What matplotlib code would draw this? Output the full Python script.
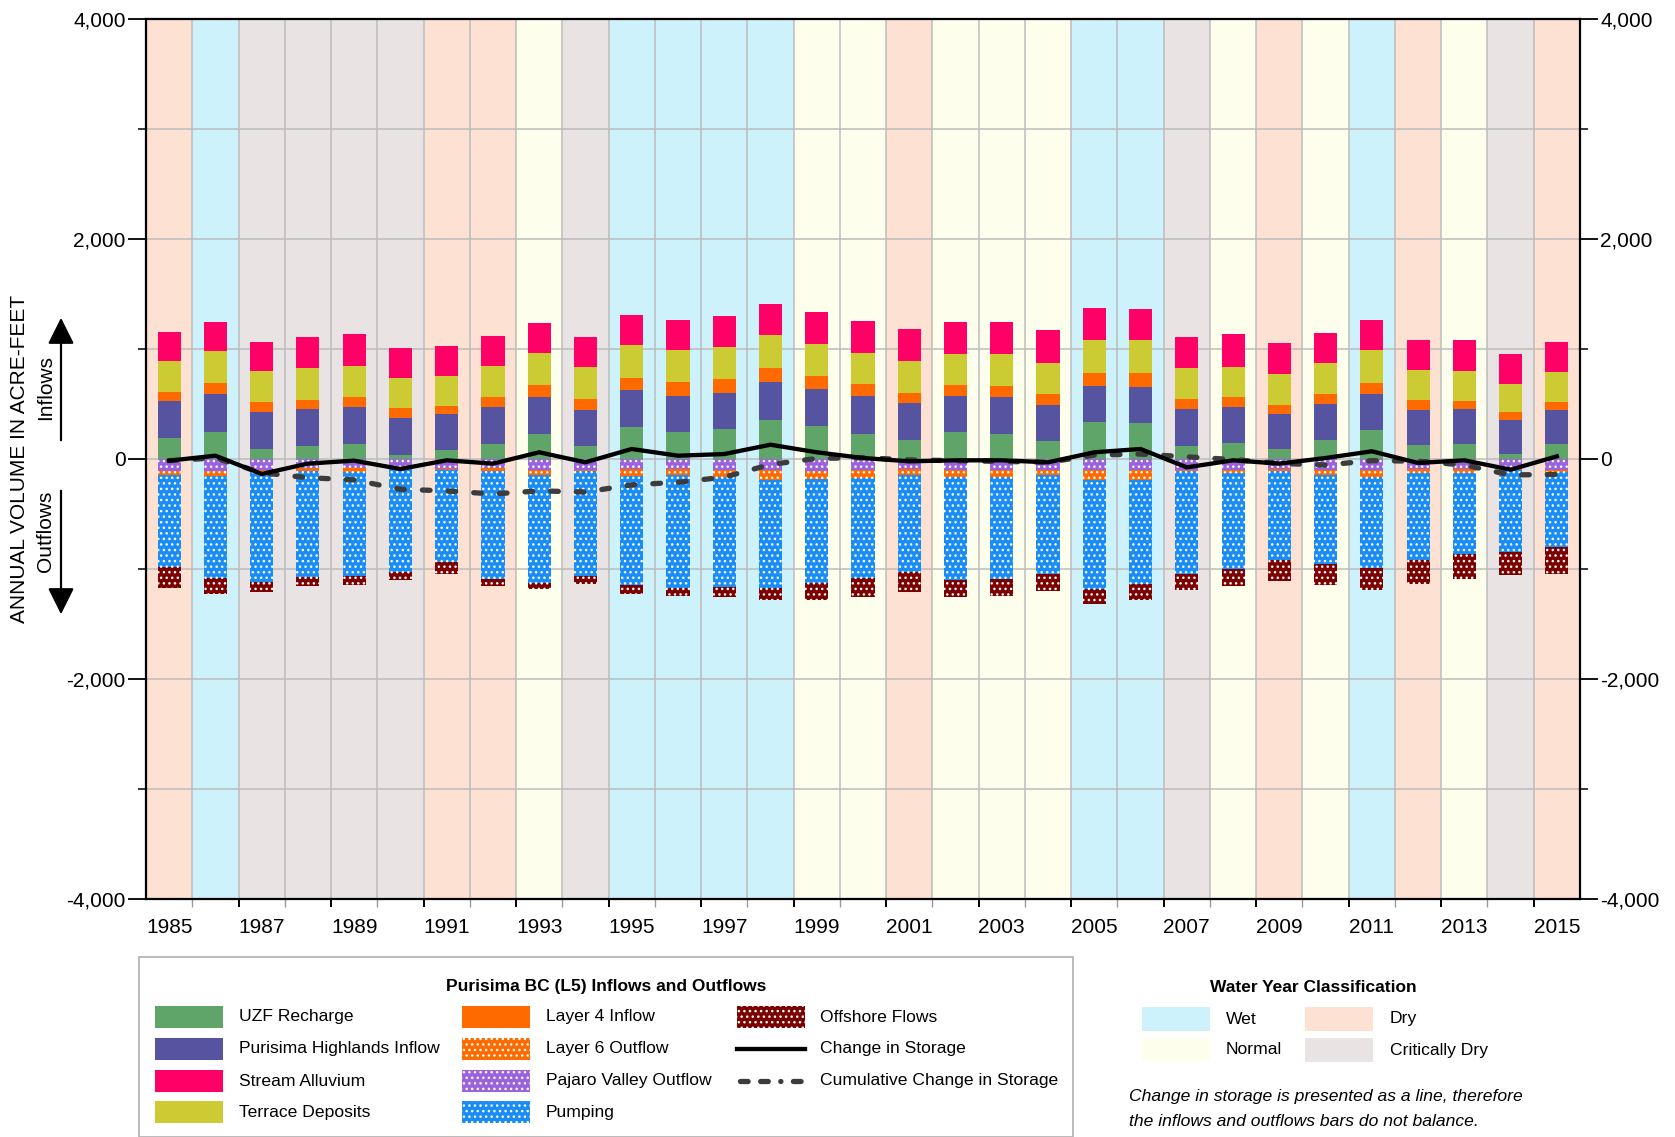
import numpy as np
import matplotlib
matplotlib.use("Agg")
import matplotlib.pyplot as plt
from matplotlib import font_manager
from matplotlib.patches import Rectangle, FancyArrowPatch
from matplotlib.lines import Line2D
from matplotlib.ticker import FixedLocator, FuncFormatter

# ---------------- data (acre-feet per water year) ----------------
years = list(range(1985, 2016))

uzf_recharge = [191, 248, 91, 121, 139, 39, 82, 139, 230, 121, 294, 245, 270, 358, 297, 230,
                173, 242, 230, 164, 333, 327, 121, 145, 91, 176, 267, 130, 133, 42, 133]
highlands_inflow = [333, 343, 333, 334, 331, 334, 327, 331, 331, 327, 330, 331, 330, 339, 339, 340,
                    333, 334, 331, 327, 328, 331, 331, 325, 321, 327, 327, 318, 319, 316, 315]
layer4_inflow = [85, 100, 91, 84, 91, 88, 73, 91, 109, 100, 115, 124, 127, 133, 119, 109,
                 94, 100, 103, 100, 118, 124, 94, 91, 82, 88, 100, 88, 75, 69, 67]
terrace_deposits = [282, 288, 282, 285, 284, 275, 270, 281, 294, 288, 297, 291, 294, 300, 293, 285,
                    291, 282, 291, 285, 300, 297, 279, 278, 276, 282, 294, 270, 273, 258, 273]
stream_alluvium = [264, 269, 270, 285, 288, 273, 275, 273, 269, 270, 273, 276, 282, 279, 291, 294,
                   291, 290, 293, 294, 294, 285, 288, 294, 285, 272, 276, 279, 279, 270, 273]

pajaro_outflow = [106, 106, 100, 82, 82, 67, 90, 82, 97, 100, 91, 91, 97, 97, 106, 97,
                  91, 97, 97, 97, 103, 97, 100, 97, 91, 97, 97, 91, 91, 82, 97]
layer6_outflow = [42, 52, 15, 30, 39, 21, 10, 24, 45, 12, 67, 58, 67, 97, 73, 76,
                  52, 67, 67, 45, 85, 91, 12, 30, 21, 45, 70, 36, 36, 15, 24]
pumping = [833, 924, 1006, 961, 939, 936, 833, 985, 985, 955, 991, 1024, 1003, 982, 952, 909,
           882, 933, 924, 903, 994, 948, 933, 873, 803, 812, 827, 788, 733, 752, 682]
offshore_flows = [191, 142, 85, 79, 85, 79, 109, 67, 55, 73, 76, 70, 88, 109, 155, 173,
                  188, 158, 161, 158, 133, 148, 148, 152, 191, 191, 200, 218, 230, 209, 239]

change_in_storage = [-15, 30, -136, -42, -15, -91, -12, -42, 61, -30, 91, 30, 45, 130, 61, 9,
                     -21, -12, -12, -30, 61, 91, -76, -12, -42, 9, 70, -36, -12, -97, 24]
cumulative_change = [-15, 10, -125, -170, -190, -275, -290, -318, -290, -300, -235, -212, -165, -50, 5, 12,
                     -8, -15, -22, -30, 35, 45, 20, -5, -40, -55, -15, -20, -55, -145, -140]

year_class = ["Dry", "Wet", "Critically Dry", "Critically Dry", "Critically Dry", "Critically Dry",
              "Dry", "Dry", "Normal", "Critically Dry", "Wet", "Wet", "Wet", "Wet", "Normal", "Normal",
              "Dry", "Normal", "Normal", "Normal", "Wet", "Wet", "Critically Dry", "Normal", "Dry",
              "Normal", "Wet", "Dry", "Normal", "Critically Dry", "Dry"]

class_colors = {"Wet": "#cdf2fb", "Normal": "#fefeec", "Dry": "#fde1d2", "Critically Dry": "#e9e3e3"}

inflow_series = [
    ("UZF Recharge", uzf_recharge, "#5fa468", None),
    ("Purisima Highlands Inflow", highlands_inflow, "#5653a1", None),
    ("Layer 4 Inflow", layer4_inflow, "#ff6a00", None),
    ("Terrace Deposits", terrace_deposits, "#cccb34", None),
    ("Stream Alluvium", stream_alluvium, "#ff0066", None),
]
outflow_series = [
    ("Pajaro Valley Outflow", pajaro_outflow, "#9a62dc", "..."),
    ("Layer 6 Outflow", layer6_outflow, "#ff6a00", "..."),
    ("Pumping", pumping, "#1a8cf5", "..."),
    ("Offshore Flows", offshore_flows, "#7d0000", "..."),
]

# ---------------- fonts ----------------
available = {f.name for f in font_manager.fontManager.ttflist}
BASE = "Liberation Sans" if "Liberation Sans" in available else "DejaVu Sans"
if "Liberation Sans Narrow" in available:
    NARROW, LEG_FS = "Liberation Sans Narrow", 15.0
else:
    NARROW, LEG_FS = BASE, 12.6
plt.rcParams["font.family"] = [BASE, "DejaVu Sans"]
plt.rcParams["lines.scale_dashes"] = False
plt.rcParams["hatch.linewidth"] = 1.0

W, H = 1675, 1137
fig = plt.figure(figsize=(W / 100, H / 100), dpi=100)


def fx(px):
    return px / W


def fy(py):
    return 1 - py / H


ax = fig.add_axes([fx(146), fy(899), fx(1580) - fx(146), fy(19) - fy(899)])

x = np.arange(len(years))

# water-year classification bands
for i, c in enumerate(year_class):
    ax.axvspan(i - 0.5, i + 0.5, color=class_colors[c], lw=0, zorder=0)
for b in np.arange(0.5, len(years) - 1, 1.0):
    ax.axvline(b, color="#bcbcbc", lw=1.1, zorder=0.5)
for g in [-3000, -2000, -1000, 0, 1000, 2000, 3000]:
    ax.axhline(g, color="#bcbcbc", lw=1.1, zorder=0.5)

bw = 0.5
bottom = np.zeros(len(years))
for name, vals, col, hatch in inflow_series:
    v = np.array(vals, float)
    ax.bar(x, v, bw, bottom=bottom, color=col, lw=0, zorder=2)
    bottom += v

bottom = np.zeros(len(years))
for name, vals, col, hatch in outflow_series:
    v = -np.array(vals, float)
    ax.bar(x, v, bw, bottom=bottom, facecolor=col, edgecolor="white", hatch=hatch, lw=0, zorder=2)
    bottom += v

dash_style = (0, (5.5, 13.0))
ax.plot(x, cumulative_change, color="#3c3c3c", lw=3.8, ls=dash_style, dash_capstyle="round",
        solid_capstyle="round", zorder=3)
ax.plot(x, change_in_storage, color="black", lw=3.1, zorder=4, solid_joinstyle="round")

ax.set_xlim(-0.5, len(years) - 0.5)
ax.set_ylim(-4000, 4000)

for s in ax.spines.values():
    s.set_linewidth(1.6)

# y axis: labelled every 2,000 with unlabelled ticks every 1,000, mirrored on the right
ax.yaxis.set_major_locator(FixedLocator([-4000, -2000, 0, 2000, 4000]))
ax.yaxis.set_minor_locator(FixedLocator([-3000, -1000, 1000, 3000]))
ax.yaxis.set_major_formatter(FuncFormatter(lambda v, p: f"{int(v):,}".replace("\u2212", "-")))
ax.tick_params(axis="y", which="major", length=13, width=1.3, pad=1.5, labelsize=15,
               left=True, right=True, labelleft=True, labelright=True, direction="out")
ax.tick_params(axis="y", which="minor", length=5.5, width=1.1, left=True, right=True, direction="out")

# x axis: ticks at year boundaries, year labels under every other bar
ax.xaxis.set_major_locator(FixedLocator(np.arange(1.5, len(years), 2.0)))
ax.xaxis.set_minor_locator(FixedLocator(np.arange(0.5, len(years) - 1, 2.0)))
ax.tick_params(axis="x", which="major", length=6, width=1.4, labelbottom=False, direction="out")
ax.tick_params(axis="x", which="minor", length=6, width=1.0, color="#9a9a9a", direction="out")

sec = ax.secondary_xaxis("bottom")
sec.set_xticks(x[::2])
sec.set_xticklabels([str(y) for y in years[::2]])
sec.tick_params(length=0, pad=13.5, labelsize=15)
sec.spines["bottom"].set_visible(False)

# y-axis title with inflow / outflow arrows
fig.text(fx(20), fy(459), "ANNUAL VOLUME IN ACRE-FEET", rotation=90, ha="center", va="center",
         fontsize=15)
fig.text(fx(46), fy(387), "Inflows", rotation=90, ha="center", va="center", fontsize=15)
fig.text(fx(46), fy(531), "Outflows", rotation=90, ha="center", va="center", fontsize=15)
for y0, y1 in [(443, 315), (488, 617)]:
    fig.patches.append(FancyArrowPatch((fx(61), fy(y0)), (fx(61), fy(y1)), transform=fig.transFigure,
                                       arrowstyle="-|>,head_length=0.9,head_width=0.45",
                                       mutation_scale=18, color="black", lw=1.6))

# ---------------- flows legend ----------------
fig.patches.append(Rectangle((fx(139), fy(1137)), fx(1073) - fx(139), fy(957) - fy(1137),
                             transform=fig.transFigure, fill=False, edgecolor="#b5b5b5", lw=1.3))
fig.text(fx(606), fy(986), "Purisima BC (L5) Inflows and Outflows", ha="center", va="center",
         fontsize=LEG_FS - 0.1, fontweight="bold", family=[NARROW, BASE])

styles = {name: (col, hatch) for name, _, col, hatch in inflow_series + outflow_series}
columns = [
    (155, 239, ["UZF Recharge", "Purisima Highlands Inflow", "Stream Alluvium", "Terrace Deposits"]),
    (462, 546, ["Layer 4 Inflow", "Layer 6 Outflow", "Pajaro Valley Outflow", "Pumping"]),
    (737, 820, ["Offshore Flows", "Change in Storage", "Cumulative Change in Storage"]),
]
row_y = [1017, 1049, 1081, 1112]
for px, tx, names in columns:
    for name, ry in zip(names, row_y):
        if name in styles:
            col, hatch = styles[name]
            fig.patches.append(Rectangle((fx(px), fy(ry + 11)), fx(68), 22 / H, transform=fig.transFigure,
                                         facecolor=col, edgecolor="white" if hatch else col,
                                         hatch=hatch, lw=0))
        elif name == "Change in Storage":
            fig.lines.append(Line2D([fx(px), fx(px + 68)], [fy(ry), fy(ry)], transform=fig.transFigure,
                                    color="black", lw=3.1))
        else:
            fig.lines.append(Line2D([fx(px + 3), fx(px + 66)], [fy(ry), fy(ry)], transform=fig.transFigure,
                                    color="#3c3c3c", lw=3.8, ls=(0, (5.5, 9.0, 5.5, 9.0, 0.1, 9.0)),
                                    dash_capstyle="round"))
        fig.text(fx(tx), fy(ry), name, ha="left", va="center", fontsize=LEG_FS,
                 family=[NARROW, BASE])

# ---------------- water year legend ----------------
fig.text(fx(1313), fy(987), "Water Year Classification", ha="center", va="center",
         fontsize=LEG_FS - 0.1, fontweight="bold", family=[NARROW, BASE])
for name, px, tx, py in [("Wet", 1142, 1226, 1019), ("Dry", 1305, 1390, 1019),
                         ("Normal", 1142, 1226, 1050), ("Critically Dry", 1305, 1390, 1050)]:
    fig.patches.append(Rectangle((fx(px), fy(py + 12)), fx(68), 24 / H, transform=fig.transFigure,
                                 facecolor=class_colors[name], lw=0))
    fig.text(fx(tx), fy(py), name, ha="left", va="center", fontsize=LEG_FS, family=[NARROW, BASE])

fig.text(fx(1129), fy(1097), "Change in storage is presented as a line, therefore", ha="left",
         va="center", fontsize=LEG_FS, style="italic", family=[NARROW, BASE])
fig.text(fx(1129), fy(1121), "the inflows and outflows bars do not balance.", ha="left",
         va="center", fontsize=LEG_FS, style="italic", family=[NARROW, BASE])

fig.savefig("out.png", dpi=100)
